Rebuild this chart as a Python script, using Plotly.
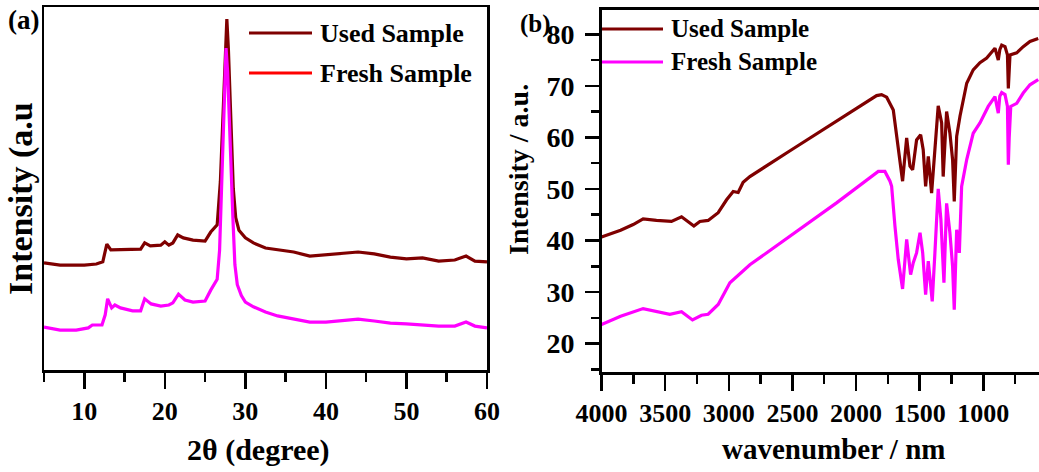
import plotly.graph_objects as go

# ---------------- Panel (a): XRD ----------------
xrd_used_2theta = [5, 7, 10, 11.5, 12.3, 12.8, 13.3, 14, 16, 17, 17.5, 18.2, 19.5, 20, 20.5, 21,
                   21.6, 22.3, 23.5, 25, 25.7, 26.5, 26.9, 27.2, 27.5, 27.7, 27.9, 28.2, 28.5,
                   28.8, 29.2, 30, 31, 32.5, 34, 36, 38, 40, 42, 44, 46, 48, 50, 52, 54, 56,
                   57.4, 58.5, 60]
xrd_used_int = [295, 289, 289, 292, 298, 347, 331, 331, 331, 333, 350, 342, 344, 353, 344, 350,
                372, 364, 358, 355, 380, 400, 520, 700, 900, 967, 880, 680, 500,
                420, 385, 364, 350, 336, 331, 325, 314, 317, 320, 325, 320, 311, 306, 309, 300, 303,
                314, 300, 298]

xrd_fresh_2theta = [5, 7, 9, 10.5, 11, 12.2, 12.6, 12.9, 13.4, 13.8, 14.5, 16, 17, 17.5, 18.3,
                    19.5, 20.5, 21, 21.7, 22.5, 23.5, 25, 25.7, 26.5, 26.8, 27.0, 27.2, 27.4,
                    27.6, 27.8, 28.0, 28.2, 28.45, 28.7, 29.0, 29.5, 30, 31, 32.5, 34, 36, 38,
                    40, 42, 44, 46, 48, 50, 52, 54, 56, 57.4, 58.5, 60]
xrd_fresh_int = [118, 110, 110, 116, 124, 124, 152, 196, 171, 179, 171, 163, 163, 196, 182,
                 176, 179, 185, 209, 193, 187, 190, 220, 250, 330, 470, 640, 800,
                 887, 820, 680, 540, 420, 290, 235, 205, 187, 174, 160, 149, 140, 132,
                 132, 135, 140, 135, 129, 127, 124, 121, 121, 132, 121, 116]

xrd_ticks = [10, 20, 30, 40, 50, 60]

# ---------------- Panel (b): FTIR ----------------
ir_used_wn = [4000, 3850, 3751, 3673, 3568, 3450, 3371, 3319, 3274, 3227, 3162, 3083, 3017,
              2965, 2926, 2887, 2834, 2500, 2200, 1838, 1799, 1759, 1707, 1681, 1655, 1634,
              1602, 1576, 1555, 1524, 1492, 1472, 1453, 1432, 1406, 1380, 1354, 1327, 1315,
              1288, 1262, 1241, 1228, 1209, 1183, 1130, 1079, 1026, 973, 908, 882, 870, 855,
              829, 810, 803, 796, 790, 737, 686, 633, 568]
ir_used_int = [40.7, 42.0, 43.1, 44.2, 43.9, 43.7, 44.6, 43.7, 42.8, 43.7, 43.9, 45.4, 47.9,
               49.5, 49.3, 51.3, 52.4, 57.7, 62.4, 68.1, 68.3, 67.8, 65.3, 60.2, 56.3, 51.5,
               59.9, 54.4, 53.7, 59.5, 60.5, 57.6, 50.5, 56.3, 49.2, 57.6, 66.1, 62.8, 52.4,
               65.0, 60.8, 55.7, 47.6, 60.2, 64.1, 70.5, 73.1, 74.5, 75.4, 77.3, 75.0, 77.0, 77.9,
               77.6, 76.0, 69.5, 73.0, 76.0, 76.4, 77.6, 78.6, 79.2]

ir_fresh_wn = [4000, 3850, 3673, 3463, 3371, 3285, 3214, 3162, 3083, 2991, 2834, 2520, 2153,
               1825, 1773, 1733, 1720, 1694, 1668, 1634, 1602, 1571, 1550, 1524, 1497, 1476,
               1453, 1432, 1401, 1380, 1354, 1333, 1309, 1288, 1262, 1241, 1228, 1209, 1188,
               1170, 1130, 1079, 1026, 961, 908, 882, 870, 855, 829, 810, 803, 796, 784, 737,
               686, 633, 568]
ir_fresh_int = [23.7, 25.3, 26.8, 25.7, 26.2, 24.6, 25.5, 25.7, 27.6, 31.8, 35.3, 40.8, 47.3,
                53.4, 53.4, 51.5, 50.5, 42.8, 36.3, 30.6, 40.2, 33.4, 35.7, 37.6, 41.5, 37.6,
                29.5, 36.0, 28.2, 37.6, 50.0, 44.1, 31.8, 47.2, 41.5, 35.0, 26.6, 42.1, 37.6,
                50.5, 55.7, 60.8, 62.8, 66.0, 67.9, 64.7, 68.0, 68.7, 68.3, 66.0, 54.7, 60.0, 66.0,
                66.6, 68.6, 70.2, 71.2]

ir_xticks = [4000, 3500, 3000, 2500, 2000, 1500, 1000]
ir_yticks = [20, 30, 40, 50, 60, 70, 80]

series_names = ["Used Sample", "Fresh Sample"]
used_color = "#7f0000"
fresh_color = "#ff00ff"
legend_a_colors = ["#7f0000", "#ff0000"]
legend_b_colors = ["#7f0000", "#ff00ff"]

W, H = 1039, 472
FONT = "Liberation Serif, Times New Roman, serif"


def px(x):
    return x / W


def py(y):
    return (H - y) / H


fig = go.Figure()
fig.add_trace(go.Scatter(x=xrd_used_2theta, y=xrd_used_int, mode="lines",
                         line=dict(color=used_color, width=3.2), xaxis="x", yaxis="y",
                         showlegend=False, name=series_names[0]))
fig.add_trace(go.Scatter(x=xrd_fresh_2theta, y=xrd_fresh_int, mode="lines",
                         line=dict(color=fresh_color, width=3.2), xaxis="x", yaxis="y",
                         showlegend=False, name=series_names[1]))
fig.add_trace(go.Scatter(x=ir_used_wn, y=ir_used_int, mode="lines",
                         line=dict(color=used_color, width=3.2), xaxis="x2", yaxis="y2",
                         showlegend=False, name=series_names[0]))
fig.add_trace(go.Scatter(x=ir_fresh_wn, y=ir_fresh_int, mode="lines",
                         line=dict(color=fresh_color, width=3.2), xaxis="x2", yaxis="y2",
                         showlegend=False, name=series_names[1]))

axis_common = dict(showline=True, linecolor="black", linewidth=2.5, showgrid=False,
                   zeroline=False, tickcolor="black", tickwidth=2.5, automargin=False)
tick_font_x = dict(family=FONT, size=26, color="black", weight="bold")
tick_font_y = dict(family=FONT, size=28, color="black", weight="bold")

fig.update_layout(
    template="none",
    width=W, height=H,
    margin=dict(l=0, r=0, t=0, b=0, autoexpand=False),
    paper_bgcolor="white", plot_bgcolor="white",
    showlegend=False,
    xaxis=dict(domain=[px(44), px(487)], range=[5, 60], tickvals=xrd_ticks,
               ticks="outside", ticklen=16, mirror=True, anchor="y",
               ticklabelstandoff=0, tickfont=tick_font_x,
               minor=dict(ticks="outside", ticklen=9, tickwidth=2.5, tickcolor="black",
                          dtick=5, tick0=0, showgrid=False),
               **axis_common),
    yaxis=dict(domain=[py(370), py(7)], range=[0, 1000], showticklabels=False,
               ticks="", mirror=True, anchor="x", **axis_common),
    xaxis2=dict(domain=[px(601.5), 1.0], range=[4000, 562], tickvals=ir_xticks,
                ticks="outside", ticklen=16, mirror=True, anchor="y2",
                ticklabelstandoff=0, tickfont=tick_font_x,
                minor=dict(ticks="outside", ticklen=9, tickwidth=2.5, tickcolor="black",
                           dtick=250, tick0=0, showgrid=False),
                **axis_common),
    yaxis2=dict(domain=[py(372), py(9.5)], range=[14.5, 84.8], tickvals=ir_yticks,
                ticks="outside", ticklen=14, mirror=False, anchor="x2",
                ticklabelstandoff=5, tickfont=tick_font_y,
                minor=dict(ticks="outside", ticklen=8, tickwidth=2.5, tickcolor="black",
                           dtick=5, tick0=0, showgrid=False),
                **axis_common),
)

# manual legends (long line samples as in the original)
shapes = []
annotations = []
leg_a = [(33, legend_a_colors[0]), (73, legend_a_colors[1])]
for (yy, col), name in zip(leg_a, series_names):
    shapes.append(dict(type="line", xref="paper", yref="paper", x0=px(249), x1=px(312),
                       y0=py(yy), y1=py(yy), line=dict(color=col, width=3)))
    annotations.append(dict(text=name, xref="paper", yref="paper", x=px(318), y=py(yy),
                            xanchor="left", yanchor="middle", showarrow=False,
                            font=dict(family=FONT, size=26, color="black", weight="bold")))
leg_b = [(29, legend_b_colors[0]), (62, legend_b_colors[1])]
for (yy, col), name in zip(leg_b, series_names):
    shapes.append(dict(type="line", xref="paper", yref="paper", x0=px(602), x1=px(663),
                       y0=py(yy), y1=py(yy), line=dict(color=col, width=3)))
    annotations.append(dict(text=name, xref="paper", yref="paper", x=px(669), y=py(yy),
                            xanchor="left", yanchor="middle", showarrow=False,
                            font=dict(family=FONT, size=25, color="black", weight="bold")))

# panel labels and axis titles
annotations += [
    dict(text="(a)", xref="paper", yref="paper", x=px(23), y=py(20), showarrow=False,
         xanchor="center", yanchor="middle",
         font=dict(family=FONT, size=27, color="black", weight="bold")),
    dict(text="(b)", xref="paper", yref="paper", x=px(535), y=py(24), showarrow=False,
         xanchor="center", yanchor="middle",
         font=dict(family=FONT, size=25, color="black", weight="bold")),
    dict(text="2θ (degree)", xref="paper", yref="paper", x=px(258), y=py(450), showarrow=False,
         xanchor="center", yanchor="middle",
         font=dict(family=FONT, size=30, color="black", weight="bold")),
    dict(text="wavenumber / nm", xref="paper", yref="paper", x=px(833), y=py(449),
         showarrow=False, xanchor="center", yanchor="middle",
         font=dict(family=FONT, size=29, color="black", weight="bold")),
    dict(text="Intensity (a.u", xref="paper", yref="paper", x=px(21), y=py(199),
         showarrow=False, textangle=-90, xanchor="center", yanchor="middle",
         font=dict(family=FONT, size=34, color="black", weight="bold")),
    dict(text="Intensity / a.u.", xref="paper", yref="paper", x=px(518), y=py(170),
         showarrow=False, textangle=-90, xanchor="center", yanchor="middle",
         font=dict(family=FONT, size=28, color="black", weight="bold")),
]

fig.update_layout(shapes=shapes, annotations=annotations)
fig.write_html("out.html",
               config={"displayModeBar": False, "staticPlot": True},
               post_script="document.body.style.margin='0';document.body.style.overflow='hidden';")
